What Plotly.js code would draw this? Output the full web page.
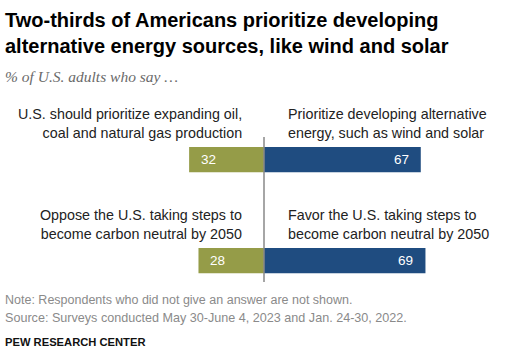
<!DOCTYPE html>
<html><head><meta charset="utf-8">
<script src="https://cdn.plot.ly/plotly-3.0.1.min.js"></script>
<style>html,body{margin:0;padding:0;background:#fff;}#chart{width:509px;height:355px;}</style>
</head><body><div id="chart"></div>
<script>
// Data
const rows = ["energy", "carbon"];
const leftValues = [32, 28];
const rightValues = [67, 69];
const leftLabels = ["U.S. should prioritize expanding oil,<br>coal and natural gas production",
                    "Oppose the U.S. taking steps to<br>become carbon neutral by 2050"];
const rightLabels = ["Prioritize developing alternative<br>energy, such as wind and solar",
                     "Favor the U.S. taking steps to<br>become carbon neutral by 2050"];

const GREEN = "#959c48", BLUE = "#1f4c80";
const W = 509, H = 355, L = 30, R = 11, T = 109, B = 44;
const PW = W - L - R, PH = H - T - B;
const px = x => (x - L) / PW;
const py = y => 1 - (y - T) / PH;
const FONT = "Liberation Sans, Arial, sans-serif";

const traces = [
  {type: "bar", orientation: "h", y: rows, x: leftValues.map(v => -v), marker: {color: GREEN},
   width: 0.25, hoverinfo: "skip"},
  {type: "bar", orientation: "h", y: rows, x: rightValues, marker: {color: BLUE},
   width: 0.25, hoverinfo: "skip"}
];

const annotations = [];
rows.forEach((r, i) => {
  annotations.push({x: -leftValues[i], y: r, xref: "x", yref: "y", text: String(leftValues[i]),
    showarrow: false, xanchor: "left", xshift: 10, font: {family: FONT, size: 13.5, color: "#fff"}});
  annotations.push({x: rightValues[i], y: r, xref: "x", yref: "y", text: String(rightValues[i]),
    showarrow: false, xanchor: "right", xshift: -10, font: {family: FONT, size: 13.5, color: "#fff"}});
  annotations.push({x: 0, y: r, xref: "x", yref: "y", text: leftLabels[i], align: "right",
    showarrow: false, xanchor: "right", xshift: -20, yanchor: "middle", yshift: 36,
    font: {family: FONT, size: 14.3, color: "#222"}});
  annotations.push({x: 0, y: r, xref: "x", yref: "y", text: rightLabels[i], align: "left",
    showarrow: false, xanchor: "left", xshift: 22, yanchor: "middle", yshift: 36,
    font: {family: FONT, size: 14.3, color: "#222"}});
});
annotations.push({x: px(3), y: py(33), xref: "paper", yref: "paper", xanchor: "left", yanchor: "middle",
  showarrow: false, align: "left",
  text: "<b>Two-thirds of Americans prioritize developing<br>alternative energy sources, like wind and solar</b>",
  font: {family: FONT, size: 20, color: "#000"}});
annotations.push({x: px(3), y: py(76), xref: "paper", yref: "paper", xanchor: "left", yanchor: "middle",
  showarrow: false, text: "<i>% of U.S. adults who say …</i>",
  font: {family: "Liberation Serif, Georgia, serif", size: 15.5, color: "#6a6a6a"}});
annotations.push({x: px(3), y: py(300), xref: "paper", yref: "paper", xanchor: "left", yanchor: "middle",
  showarrow: false, text: "Note: Respondents who did not give an answer are not shown.",
  font: {family: FONT, size: 12.5, color: "#8a8a8a"}});
annotations.push({x: px(3), y: py(318), xref: "paper", yref: "paper", xanchor: "left", yanchor: "middle",
  showarrow: false, text: "Source: Surveys conducted May 30-June 4, 2023 and Jan. 24-30, 2022.",
  font: {family: FONT, size: 12.6, color: "#8a8a8a"}});
annotations.push({x: px(3), y: py(342), xref: "paper", yref: "paper", xanchor: "left", yanchor: "middle",
  showarrow: false, text: "<b>PEW RESEARCH CENTER</b>",
  font: {family: FONT, size: 11.2, color: "#111"}});

const layout = {
  width: W, height: H, margin: {l: L, r: R, t: T, b: B},
  paper_bgcolor: "#fff", plot_bgcolor: "#fff", showlegend: false, barmode: "overlay",
  xaxis: {range: [-100, 100], visible: false, fixedrange: true},
  yaxis: {type: "category", categoryarray: rows, range: [1.5, -0.5], visible: false, fixedrange: true},
  shapes: [{type: "line", xref: "x", yref: "paper", x0: 0, x1: 0, y0: py(137), y1: py(282),
    line: {color: "#888", width: 1.5}}],
  annotations: annotations
};
Plotly.newPlot("chart", traces, layout, {displayModeBar: false, staticPlot: true});
</script></body></html>
